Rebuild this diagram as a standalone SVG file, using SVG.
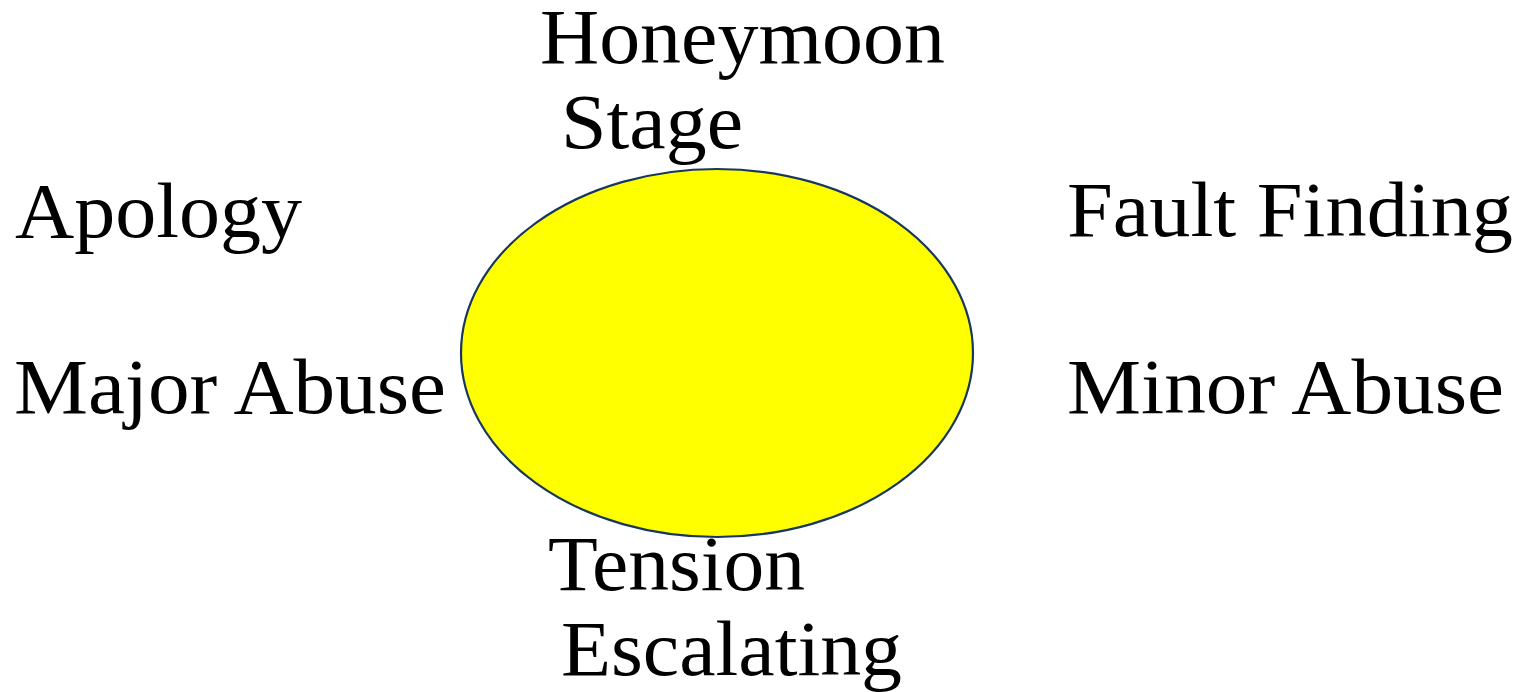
<svg xmlns="http://www.w3.org/2000/svg" width="1528" height="692" viewBox="0 0 1528 692">
<style>
.lbl{font-family:"Liberation Serif","Times New Roman",serif;font-size:78px;fill:#000}
.cycle{fill:#ffff00;stroke:#17375e;stroke-width:2.2}
</style>
<rect width="1528" height="692" fill="#fff"/>
<g id="cycle-node">
<ellipse class="cycle" cx="717" cy="353" rx="256" ry="184"/>
</g>
<g id="connectors"></g>
<g id="honeymoon">
<text class="lbl" x="540" y="63" textLength="405" lengthAdjust="spacingAndGlyphs">Honeymoon</text>
<text class="lbl" x="561" y="148" textLength="182" lengthAdjust="spacingAndGlyphs">Stage</text>
</g>
<g id="apology">
<text class="lbl" x="15" y="237" textLength="287" lengthAdjust="spacingAndGlyphs">Apology</text>
</g>
<g id="fault-finding">
<text class="lbl" x="1067" y="236" textLength="446" lengthAdjust="spacingAndGlyphs">Fault Finding</text>
</g>
<g id="major-abuse">
<text class="lbl" x="14" y="413" textLength="432" lengthAdjust="spacingAndGlyphs">Major Abuse</text>
</g>
<g id="minor-abuse">
<text class="lbl" x="1067" y="413" textLength="437" lengthAdjust="spacingAndGlyphs">Minor Abuse</text>
</g>
<g id="tension-escalating">
<text class="lbl" x="548" y="590" textLength="257" lengthAdjust="spacingAndGlyphs">Tension</text>
<text class="lbl" x="561" y="675" textLength="341" lengthAdjust="spacingAndGlyphs">Escalating</text>
</g>
</svg>
